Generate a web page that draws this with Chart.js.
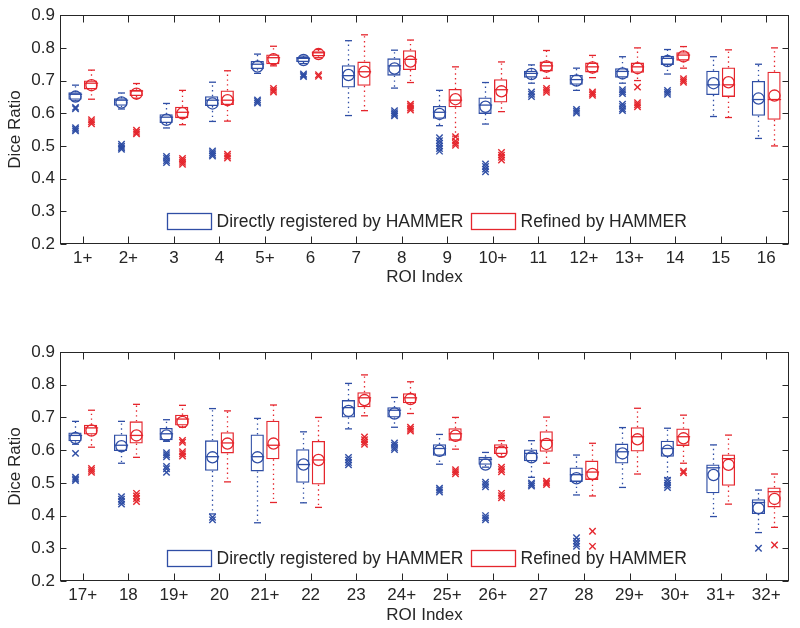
<!DOCTYPE html>
<html>
<head>
<meta charset="utf-8">
<script src="https://cdn.jsdelivr.net/npm/chart.js@4.4.0/dist/chart.umd.min.js"></script>
<style>
  html, body { margin: 0; padding: 0; background: #fff; }
  #wrap { position: relative; width: 800px; height: 628px; }
  .panel { position: absolute; left: 0; width: 800px; }
</style>
</head>
<body>
<div id="wrap">
  <div class="panel" style="top:0;height:300px"><canvas id="c1"></canvas></div>
  <div class="panel" style="top:300px;height:328px"><canvas id="c2"></canvas></div>
</div>
<script>
// ---------------- DATA ----------------
const roiLabels = ['1+','2+','3','4','5+','6','7','8','9','10+','11','12+','13+','14','15','16',
                   '17+','18','19+','20','21+','22','23','24+','25+','26+','27','28','29+','30+','31+','32+'];
const yTickValues = [0.2, 0.3, 0.4, 0.5, 0.6, 0.7, 0.8, 0.9];
const seriesNames = ['Directly registered by HAMMER', 'Refined by HAMMER'];

// Directly registered by HAMMER (blue)
const directLow  = [0.638,0.613,0.555,0.575,0.722,0.752,0.593,0.677,0.562,0.567,0.692,0.670,0.692,0.720,0.590,0.523,
                    0.618,0.560,0.627,0.405,0.378,0.439,0.665,0.670,0.557,0.548,0.517,0.463,0.486,0.515,0.397,0.348];
const directQ1   = [0.641,0.623,0.570,0.622,0.735,0.757,0.679,0.715,0.583,0.598,0.709,0.687,0.709,0.748,0.656,0.592,
                    0.627,0.597,0.630,0.537,0.535,0.500,0.700,0.700,0.583,0.555,0.566,0.503,0.559,0.580,0.468,0.405];
const directMed  = [0.658,0.640,0.588,0.640,0.750,0.768,0.715,0.745,0.603,0.625,0.722,0.703,0.728,0.768,0.687,0.642,
                    0.645,0.615,0.650,0.580,0.580,0.556,0.730,0.722,0.605,0.572,0.590,0.525,0.595,0.605,0.546,0.440];
const directQ3   = [0.664,0.646,0.597,0.652,0.760,0.772,0.747,0.768,0.622,0.648,0.730,0.717,0.738,0.776,0.730,0.699,
                    0.654,0.648,0.668,0.630,0.648,0.603,0.753,0.731,0.618,0.580,0.602,0.547,0.620,0.629,0.556,0.450];
const directHigh = [0.686,0.662,0.630,0.695,0.781,0.775,0.822,0.793,0.670,0.694,0.748,0.738,0.773,0.795,0.773,0.750,
                    0.688,0.688,0.693,0.727,0.697,0.656,0.804,0.761,0.648,0.593,0.629,0.585,0.669,0.667,0.616,0.478];
const directMean = [0.651,0.633,0.580,0.630,0.743,0.763,0.717,0.737,0.598,0.620,0.720,0.700,0.722,0.760,0.692,0.645,
                    0.637,0.612,0.645,0.578,0.578,0.556,0.720,0.712,0.598,0.556,0.578,0.514,0.590,0.598,0.524,0.422];
const directOut  = [[0.618,0.614,0.556,0.551,0.546],[0.505,0.499,0.494,0.490],[0.468,0.462,0.455,0.449],[0.485,0.479,0.474,0.469],
                    [0.641,0.636,0.631],[0.720,0.716,0.712],[],[0.608,0.602,0.597,0.592],
                    [0.525,0.516,0.508,0.500,0.492,0.484],[0.445,0.437,0.429,0.421],[0.665,0.658,0.651],[0.612,0.606,0.601],
                    [0.672,0.666,0.660,0.628,0.621,0.614,0.608],[0.670,0.664,0.658],[],[],
                    [0.590,0.517,0.512,0.507],[0.458,0.450,0.443,0.435],[0.592,0.586,0.580,0.550,0.543,0.532],[0.395,0.387],
                    [],[],[0.578,0.570,0.562,0.555],[0.622,0.615,0.608,0.602],
                    [0.484,0.478,0.472],[0.502,0.495,0.488,0.400,0.393,0.387],[0.500,0.495,0.490],[0.332,0.322,0.314,0.306],
                    [],[0.508,0.500,0.493,0.486],[],[0.300]];

// Refined by HAMMER (red)
const refinedLow  = [0.643,0.646,0.565,0.576,0.745,0.770,0.608,0.694,0.530,0.605,0.707,0.709,0.700,0.738,0.587,0.500,
                     0.609,0.578,0.670,0.503,0.440,0.425,0.705,0.712,0.603,0.580,0.560,0.460,0.527,0.560,0.435,0.364];
const refinedQ1   = [0.673,0.653,0.585,0.625,0.750,0.774,0.684,0.732,0.618,0.633,0.728,0.725,0.724,0.761,0.650,0.580,
                     0.648,0.620,0.675,0.590,0.572,0.495,0.731,0.743,0.629,0.588,0.595,0.509,0.596,0.613,0.491,0.425];
const refinedMed  = [0.692,0.668,0.603,0.640,0.770,0.785,0.727,0.765,0.640,0.672,0.745,0.742,0.742,0.778,0.687,0.642,
                     0.668,0.645,0.695,0.622,0.615,0.570,0.760,0.760,0.650,0.608,0.630,0.533,0.641,0.641,0.574,0.473];
const refinedQ3   = [0.700,0.672,0.620,0.670,0.780,0.790,0.758,0.793,0.674,0.704,0.758,0.755,0.755,0.787,0.740,0.727,
                     0.678,0.688,0.708,0.655,0.690,0.628,0.777,0.774,0.667,0.618,0.658,0.568,0.670,0.666,0.587,0.486];
const refinedHigh = [0.732,0.691,0.670,0.730,0.805,0.795,0.840,0.824,0.742,0.757,0.792,0.777,0.800,0.804,0.794,0.800,
                     0.722,0.740,0.737,0.720,0.738,0.700,0.830,0.809,0.700,0.629,0.701,0.621,0.728,0.707,0.646,0.527];
const refinedMean = [0.686,0.660,0.600,0.640,0.765,0.781,0.727,0.758,0.643,0.667,0.743,0.740,0.738,0.774,0.695,0.654,
                     0.660,0.645,0.686,0.620,0.620,0.570,0.753,0.756,0.644,0.595,0.619,0.527,0.633,0.636,0.555,0.451];
const refinedOut  = [[0.580,0.574,0.568],[0.548,0.542,0.537],[0.462,0.456,0.450,0.444],[0.475,0.469,0.463],
                     [0.676,0.670,0.665],[0.718,0.713],[],[0.628,0.622,0.616,0.610],
                     [0.528,0.515,0.508,0.502],[0.480,0.472,0.465,0.457],[0.676,0.670,0.664],[0.665,0.660,0.655],
                     [0.680,0.632,0.626,0.620],[0.706,0.700,0.695],[],[],
                     [0.544,0.538,0.532],[0.468,0.460,0.452,0.443],[0.630,0.624,0.595,0.589,0.582],[],
                     [],[],[0.640,0.632,0.625,0.618],[0.670,0.664,0.658],
                     [0.540,0.534,0.528],[0.548,0.541,0.534,0.468,0.461,0.454],[0.505,0.500,0.495],[0.352,0.306],
                     [],[0.536,0.531],[],[0.310]];

// ---------------- STYLE ----------------
const BLUE = '#2f4ea5';
const RED  = '#e5262d';
const INK  = '#262626';
const FONT = '"Liberation Sans", Arial, Helvetica, sans-serif';

Chart.defaults.font.family = FONT;
Chart.defaults.font.size = 17;
Chart.defaults.color = INK;

function seg(ctx, x1, y1, x2, y2) {
  ctx.beginPath(); ctx.moveTo(x1, y1); ctx.lineTo(x2, y2); ctx.stroke();
}

const boxPlotExtras = {
  id: 'boxPlotExtras',
  afterDatasetsDraw(chart) {
    const ctx = chart.ctx, ys = chart.scales.y;
    chart.data.datasets.forEach((ds, d) => {
      const meta = chart.getDatasetMeta(d);
      const st = ds.stats;
      ctx.save();
      ctx.strokeStyle = ds.borderColor;
      meta.data.forEach((bar, i) => {
        const cx = Math.round(bar.x) + 0.5, hw = bar.width / 2;
        const yLo = ys.getPixelForValue(st.low[i]);
        const yQ1 = ys.getPixelForValue(st.q1[i]);
        const yMed = ys.getPixelForValue(st.med[i]);
        const yQ3 = ys.getPixelForValue(st.q3[i]);
        const yHi = ys.getPixelForValue(st.high[i]);
        const yMean = ys.getPixelForValue(st.mean[i]);
        // whiskers (dotted)
        ctx.lineWidth = 1.3;
        ctx.setLineDash([1.4, 3.4]);
        seg(ctx, cx, yQ3, cx, yHi);
        seg(ctx, cx, yQ1, cx, yLo);
        ctx.setLineDash([]);
        // caps
        ctx.lineWidth = 1.3;
        seg(ctx, cx - 3.5, yHi, cx + 3.5, yHi);
        seg(ctx, cx - 3.5, yLo, cx + 3.5, yLo);
        // median
        seg(ctx, cx - hw, yMed, cx + hw, yMed);
        // mean circle
        ctx.lineWidth = 1.3;
        ctx.beginPath(); ctx.arc(cx, yMean, 5.6, 0, Math.PI * 2); ctx.stroke();
        // outliers
        ctx.lineWidth = 1.4;
        st.out[i].forEach(v => {
          const yo = ys.getPixelForValue(v), s = 3.2;
          seg(ctx, cx - s, yo - s, cx + s, yo + s);
          seg(ctx, cx - s, yo + s, cx + s, yo - s);
        });
      });
      ctx.restore();
    });
  },
  afterDraw(chart) {
    const ctx = chart.ctx, a = chart.chartArea, xs = chart.scales.x, ys = chart.scales.y;
    ctx.save();
    ctx.strokeStyle = INK;
    ctx.lineWidth = 1;
    const L = Math.round(a.left) + 0.5, R = Math.round(a.right) - 0.5;
    const T = Math.round(a.top) + 0.5, B = Math.round(a.bottom) - 0.5;
    ctx.strokeRect(L, T, R - L, B - T);
    // x ticks, inward at bottom and top
    xs.ticks.forEach((t, i) => {
      const px = Math.round(xs.getPixelForTick(i)) + 0.5;
      seg(ctx, px, B, px, B - 7);
      seg(ctx, px, T, px, T + 7);
    });
    // y ticks, inward at left and right
    yTickValues.forEach(v => {
      const py = Math.round(ys.getPixelForValue(v)) + 0.5;
      seg(ctx, L, py, L + 6, py);
      seg(ctx, R, py, R - 6, py);
    });
    // legend inside the plot area
    const boxW = 44, boxH = 16;
    const boxTop = Math.round(a.bottom) - 31 + 0.5;
    let x = 167.5;
    ctx.font = '17.5px ' + FONT;
    ctx.textBaseline = 'middle';
    ctx.textAlign = 'left';
    chart.data.datasets.forEach(ds => {
      ctx.strokeStyle = ds.borderColor;
      ctx.lineWidth = 1.3;
      ctx.strokeRect(x, boxTop, boxW, boxH);
      ctx.fillStyle = INK;
      const tx = x + boxW + 5;
      ctx.fillText(ds.label, tx, boxTop + boxH / 2 + 1);
      x = Math.round(tx + ctx.measureText(ds.label).width + 8) + 0.5;
    });
    ctx.restore();
  }
};

function makeStats(low, q1, med, q3, high, mean, out, s, e) {
  return { low: low.slice(s, e), q1: q1.slice(s, e), med: med.slice(s, e), q3: q3.slice(s, e),
           high: high.slice(s, e), mean: mean.slice(s, e), out: out.slice(s, e) };
}

function makePanel(canvasId, s, e, padTop, xAxisHeight, titlePadBottom) {
  const dStats = makeStats(directLow, directQ1, directMed, directQ3, directHigh, directMean, directOut, s, e);
  const rStats = makeStats(refinedLow, refinedQ1, refinedMed, refinedQ3, refinedHigh, refinedMean, refinedOut, s, e);
  return new Chart(document.getElementById(canvasId), {
    type: 'bar',
    data: {
      labels: roiLabels.slice(s, e),
      datasets: [
        { label: seriesNames[0], data: dStats.q1.map((v, i) => [v, dStats.q3[i]]), stats: dStats,
          backgroundColor: 'rgba(0,0,0,0)', borderColor: BLUE, borderWidth: 1.3, borderSkipped: false,
          categoryPercentage: 0.685, barPercentage: 0.85 },
        { label: seriesNames[1], data: rStats.q1.map((v, i) => [v, rStats.q3[i]]), stats: rStats,
          backgroundColor: 'rgba(0,0,0,0)', borderColor: RED, borderWidth: 1.3, borderSkipped: false,
          categoryPercentage: 0.685, barPercentage: 0.85 }
      ]
    },
    options: {
      responsive: true,
      maintainAspectRatio: false,
      animation: false,
      devicePixelRatio: 1,
      layout: { padding: { top: padTop, right: 11, left: 0, bottom: 0 } },
      plugins: { legend: { display: false }, tooltip: { enabled: false } },
      scales: {
        x: {
          type: 'category',
          offset: true,
          grid: { display: false, drawTicks: false },
          border: { display: false },
          ticks: { padding: 4, autoSkip: false, maxRotation: 0, font: { size: 17 }, color: INK },
          title: { display: true, text: 'ROI Index', font: { size: 17 }, color: INK,
                   padding: { top: 0, bottom: titlePadBottom } },
          afterFit: sc => { sc.height = xAxisHeight; }
        },
        y: {
          min: 0.2, max: 0.9,
          grid: { display: false, drawTicks: false },
          border: { display: false },
          ticks: { stepSize: 0.1, padding: 5, font: { size: 17 }, color: INK,
                   callback: v => Number(v).toFixed(1) },
          title: { display: true, text: 'Dice Ratio', font: { size: 17 }, color: INK,
                   padding: { top: 5, bottom: 0 } },
          afterFit: sc => { sc.width = 60; }
        }
      }
    },
    plugins: [boxPlotExtras]
  });
}

makePanel('c1', 0, 16, 14, 56, 12.8);
makePanel('c2', 16, 32, 52, 47, 2.8);
</script>
</body>
</html>
